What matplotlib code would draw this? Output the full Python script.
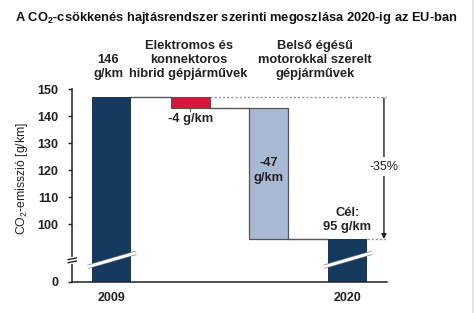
import numpy as np
import matplotlib
matplotlib.use("Agg")
import matplotlib.pyplot as plt
import matplotlib.transforms as mtransforms
import matplotlib.patheffects as pe
from matplotlib.patches import Rectangle

# ---------------- data ----------------
title = "A CO$_\\mathbf{2}$-csökkenés hajtásrendszer szerinti megoszlása 2020-ig az EU-ban"
ylabel = "CO$_2$-emisszió [g/km]"
years = ["2009", "", "", "2020"]
start_value = 147.3          # drawn height of 2009 bar
deltas = [-4.0, -48.7]       # drawn steps (electric/hybrid, ICE)
end_value = 94.6             # drawn height of 2020 target bar
top_labels = ["146\ng/km",
              "Elektromos és\nkonnektoros\nhibrid gépjárművek",
              "Belső égésű\nmotorokkal szerelt\ngépjárművek"]
delta_labels = ["-4 g/km", "-47\ng/km"]
target_label = "Cél:\n95 g/km"
pct_label = "-35%"
yticks = [0, 100, 110, 120, 130, 140, 150]

# ---------------- style ----------------
NAVY = "#163a5e"
RED = "#d8173c"
LIGHT = "#a8b9d3"
DARK = "#222222"
GRAY = "#555555"
FONT = ["Liberation Sans", "DejaVu Sans"]
plt.rcParams["font.family"] = FONT
plt.rcParams["mathtext.fontset"] = "custom"
plt.rcParams["mathtext.rm"] = "Liberation Sans"
plt.rcParams["mathtext.bf"] = "Liberation Sans:bold"

A, T = 78.7, 90.0
def fwd(v):
    v = np.asarray(v, dtype=float)
    return np.where(v >= T, v, A + v * (T - A) / T)
def inv(u):
    u = np.asarray(u, dtype=float)
    return np.where(u >= T, u, (u - A) * T / (T - A))

W, H = 474, 313
fig = plt.figure(figsize=(W / 100, H / 100), dpi=100)
fig.patch.set_facecolor("white")
ax = fig.add_axes([72.3 / W, 1 - 282 / H, 314.4 / W, 192.5 / H])
ax.set_yscale("function", functions=(fwd, inv))
ax.set_xlim(-0.5, 3.5)
ax.set_ylim(0, 150)

x = np.arange(4)
bw = 0.5
levels = [start_value]
for d in deltas:
    levels.append(levels[-1] + d)

# bars
ax.bar(x[0], start_value, width=bw, color=NAVY, zorder=2)
ax.bar(x[1], -deltas[0], bottom=levels[1], width=bw, color=RED,
       edgecolor=GRAY, linewidth=0.8, zorder=2)
ax.bar(x[2], -deltas[1], bottom=levels[2], width=bw, color=LIGHT,
       edgecolor=GRAY, linewidth=0.9, zorder=2)
ax.bar(x[3], end_value, width=bw, color=NAVY, zorder=2)

# connectors
ax.plot([x[0] + bw / 2, x[1] - bw / 2], [levels[0]] * 2, color=GRAY, lw=1.0, zorder=1)
ax.plot([x[1] + bw / 2, x[2] - bw / 2], [levels[1]] * 2, color=GRAY, lw=1.0, zorder=1)
ax.plot([x[2] + bw / 2, x[3] - bw / 2], [levels[2]] * 2, color=GRAY, lw=1.0, zorder=1)
ax.plot([x[1] + bw / 2, 3.5], [levels[0]] * 2, color="#999999", lw=1.0,
        ls=(0, (1.5, 1.5)), zorder=1)
ax.plot([x[3] + bw / 2, 3.5], [end_value] * 2, color="#999999", lw=1.0,
        ls=(0, (1.5, 1.5)), zorder=1)

# bar slashes (axis break)
for xi in (x[0], x[3]):
    ax.plot([xi - 0.30, xi + 0.31], [45, 86], color="white", lw=2.0,
            solid_capstyle="butt", zorder=3,
            path_effects=[pe.Stroke(linewidth=3.0, foreground="#7a8796"), pe.Normal()])

# y-axis break marks
bt = mtransforms.blended_transform_factory(ax.transAxes, ax.transData)
ax.plot([0, 0], [58, 69], color="white", lw=3, transform=bt, clip_on=False, zorder=5)
for yb in (57, 66):
    ax.plot([-0.013, 0.013], [yb, yb + 5], color=DARK, lw=1.0, transform=bt,
            clip_on=False, zorder=6)

# labels on chart
lab_kw = dict(ha="center", va="center", fontsize=9.3, fontweight="bold", color=DARK)
ax.text(x[1], 139.0, delta_labels[0], **lab_kw)
ax.plot([x[1], x[1]], [levels[1], levels[1] - 1.3], color=GRAY, lw=0.8)
ax.text(x[2], 120.0, delta_labels[1], linespacing=1.4, **lab_kw)
ax.text(x[3], 101.6, target_label, linespacing=1.25, **lab_kw)

# -35 % arrow
ax.annotate("", xy=(3.465, end_value), xytext=(3.465, levels[0] - 0.5),
            arrowprops=dict(arrowstyle="-|>", color=DARK, lw=1.0,
                            mutation_scale=7, shrinkA=0, shrinkB=0))
ax.text(3.465, 121.4, pct_label, ha="center", va="center", fontsize=9.0,
        color=DARK, bbox=dict(facecolor="white", edgecolor="none", pad=2.5), zorder=4)

# top category labels
tt = mtransforms.blended_transform_factory(ax.transData, fig.transFigure)
ax.text(x[0] - 0.04, 1 - 66.7 / H, top_labels[0], transform=tt, linespacing=1.18, **lab_kw)
ax.text(x[1] - 0.02, 1 - 60 / H, top_labels[1], transform=tt, linespacing=1.18, **lab_kw)
ax.text(x[2] + 0.59, 1 - 60 / H, top_labels[2], transform=tt, linespacing=1.18, **lab_kw)

# axes styling
for s in ("top", "right"):
    ax.spines[s].set_visible(False)
for s in ("left", "bottom"):
    ax.spines[s].set_color(DARK)
    ax.spines[s].set_linewidth(1.1)
ax.set_yticks(yticks)
ax.set_yticklabels([str(t) for t in yticks], fontsize=9.0, fontweight="bold", color=DARK)
ax.tick_params(axis="y", length=3, width=1.0, pad=7, color=DARK)
ax.set_xticks(x)
ax.set_xticklabels(years, fontsize=9.0, fontweight="bold", color=DARK)
ax.tick_params(axis="x", length=0, pad=7)

fig.text(21.7 / W, 1 - 178 / H, ylabel, rotation=90, ha="center", va="center",
         fontsize=8.8, color=DARK)
fig.text(236.5 / W, 1 - 17.5 / H, title, ha="center", va="center",
         fontsize=9.25, fontweight="bold", color="#111111")

# right-edge border
fig.patches.append(Rectangle((471.5 / W, 0), 2.5 / W, 1, transform=fig.transFigure,
                             facecolor="#e4e4e4", edgecolor="none"))

fig.savefig("out.png", dpi=100)
